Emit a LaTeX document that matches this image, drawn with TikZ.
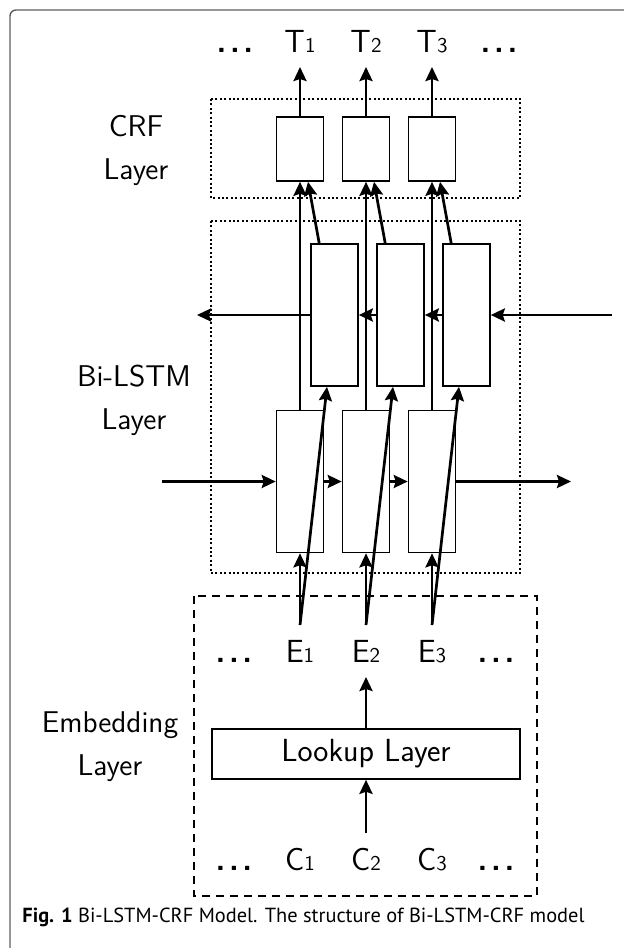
\documentclass[tikz,border=0pt]{standalone}
\usepackage{fontspec}
\usepackage{tikz}
\usetikzlibrary{arrows.meta,positioning}
\newfontfamily\capfont{PT Sans}
\definecolor{frameG}{RGB}{95,95,95}
% label with a small index on the baseline, e.g. T1
\newcommand{\seqlbl}[2]{#1{\fontsize{10.5}{12}\selectfont #2}}
\newcommand{\moredots}{{\bfseries\fontsize{16}{20}\selectfont .\kern1.8pt.\kern1.8pt.}}

\begin{document}
\begin{tikzpicture}[x=0.5pt, y=-0.5pt, font=\sffamily\fontsize{16}{21.5}\selectfont,
  >={Stealth[length=7pt, width=6.5pt, inset=1pt]},
  lbl/.style={anchor=base, inner sep=0pt, text height=11pt, text depth=0pt, outer ysep=7.5pt},
  side/.style={align=center, font=\sffamily\fontsize{15}{21.5}\selectfont},
  crf/.style={draw, line width=0.8pt, inner sep=0pt, minimum width=23.5pt, minimum height=32pt},
  lstm/.style={draw, line width=0.8pt, inner sep=0pt, minimum width=23.5pt, minimum height=71pt},
  arr/.style={->, line width=1.35pt},
  dotbox/.style={line width=0.8pt, dash pattern=on 1pt off 1.2pt},
  dashbox/.style={line width=0.8pt, dash pattern=on 4pt off 3pt}]
  \useasboundingbox (0,0) rectangle (624,948);
  \draw[frameG, line width=0.7pt, rounded corners=3pt] (624,10) -- (10,10) -- (10,948);

  % layer frames
  \draw[dotbox] (211,99) rectangle (520,198);
  \draw[dotbox] (211,221) rectangle (520,573);
  \draw[dashbox] (194,596) rectangle (537,896);
  \node[side] (crflbl) at (136,150) {CRF\\Layer};
  \node[side] (lstmlbl) at (134,400) {Bi-LSTM\\Layer};
  \node[side] (emblbl) at (110,747) {Embedding\\Layer};

  % tags
  \node[lbl] (tdl) at (235,52) {\moredots};
  \node[lbl] (t1) at (300,52) {\seqlbl{T}{1}};
  \node[lbl] (t2) at (366,52) {\seqlbl{T}{2}};
  \node[lbl] (t3) at (432,52) {\seqlbl{T}{3}};
  \node[lbl] (tdr) at (499,52) {\moredots};

  % CRF layer
  \node[crf] (crf1) at (300,149) {};
  \node[crf] (crf2) at (366,149) {};
  \node[crf] (crf3) at (432,149) {};

  % backward LSTM
  \node[lstm] (bw1) at (334.5,315) {};
  \node[lstm] (bw2) at (400.5,315) {};
  \node[lstm] (bw3) at (466.5,315) {};
  % forward LSTM
  \node[lstm] (fw1) at (300,481.5) {};
  \node[lstm] (fw2) at (366,481.5) {};
  \node[lstm] (fw3) at (432,481.5) {};

  % embeddings
  \node[lbl] (edl) at (234,662) {\moredots};
  \node[lbl] (e1) at (300,662) {\seqlbl{E}{1}};
  \node[lbl] (e2) at (366,662) {\seqlbl{E}{2}};
  \node[lbl] (e3) at (432,662) {\seqlbl{E}{3}};
  \node[lbl] (edr) at (496,662) {\moredots};
  \node[draw, line width=0.8pt, minimum width=154pt, minimum height=25pt, inner sep=0pt]
    (lookup) at (366,754) {Lookup Layer};
  \node[lbl] (cdl) at (234,870) {\moredots};
  \node[lbl] (c1) at (300,870) {\seqlbl{C}{1}};
  \node[lbl] (c2) at (366,870) {\seqlbl{C}{2}};
  \node[lbl] (c3) at (432,870) {\seqlbl{C}{3}};
  \node[lbl] (cdr) at (496,870) {\moredots};

  \coordinate (fwin) at (162,481.5);
  \coordinate (fwout) at (571,481.5);
  \coordinate (bwin) at (612,315);
  \coordinate (bwout) at (197,315);

  % forward and backward chains
  \draw[arr] (fwin) -- (fw1);
  \draw[arr] (fw1) -- (fw2);
  \draw[arr] (fw2) -- (fw3);
  \draw[arr] (fw3) -- (fwout);
  \draw[arr] (bwin) -- (bw3);
  \draw[arr] (bw3) -- (bw2);
  \draw[arr] (bw2) -- (bw1);
  \draw[arr] (bw1) -- (bwout);

  % inputs to the LSTM
  \draw[arr] (e1) -- (fw1);
  \draw[arr] (e2) -- (fw2);
  \draw[arr] (e3) -- (fw3);
  \draw[arr] (e1.north) -- ([xshift=-3.75pt]bw1.south);
  \draw[arr] (e2.north) -- ([xshift=-3.75pt]bw2.south);
  \draw[arr] (e3.north) -- ([xshift=-3.75pt]bw3.south);

  % LSTM outputs to CRF
  \draw[arr] (fw1) -- (crf1);
  \draw[arr] (fw2) -- (crf2);
  \draw[arr] (fw3) -- (crf3);
  \draw[arr] ([xshift=4.5pt]bw1.north west) -- ([xshift=4pt]crf1.south);
  \draw[arr] ([xshift=4.5pt]bw2.north west) -- ([xshift=4pt]crf2.south);
  \draw[arr] ([xshift=4.5pt]bw3.north west) -- ([xshift=4pt]crf3.south);
  \draw[arr] (crf1) -- (t1);
  \draw[arr] (crf2) -- (t2);
  \draw[arr] (crf3) -- (t3);

  % embedding lookup
  \draw[arr] (c2) -- (lookup);
  \draw[arr] (lookup) -- (e2);

  \node[anchor=base west, inner sep=0pt, font=\capfont\fontsize{10.2}{12}\selectfont] (cap) at (22,922)
    {\textbf{Fig. 1} Bi-LSTM-CRF Model. The structure of Bi-LSTM-CRF model};
\end{tikzpicture}
\end{document}
